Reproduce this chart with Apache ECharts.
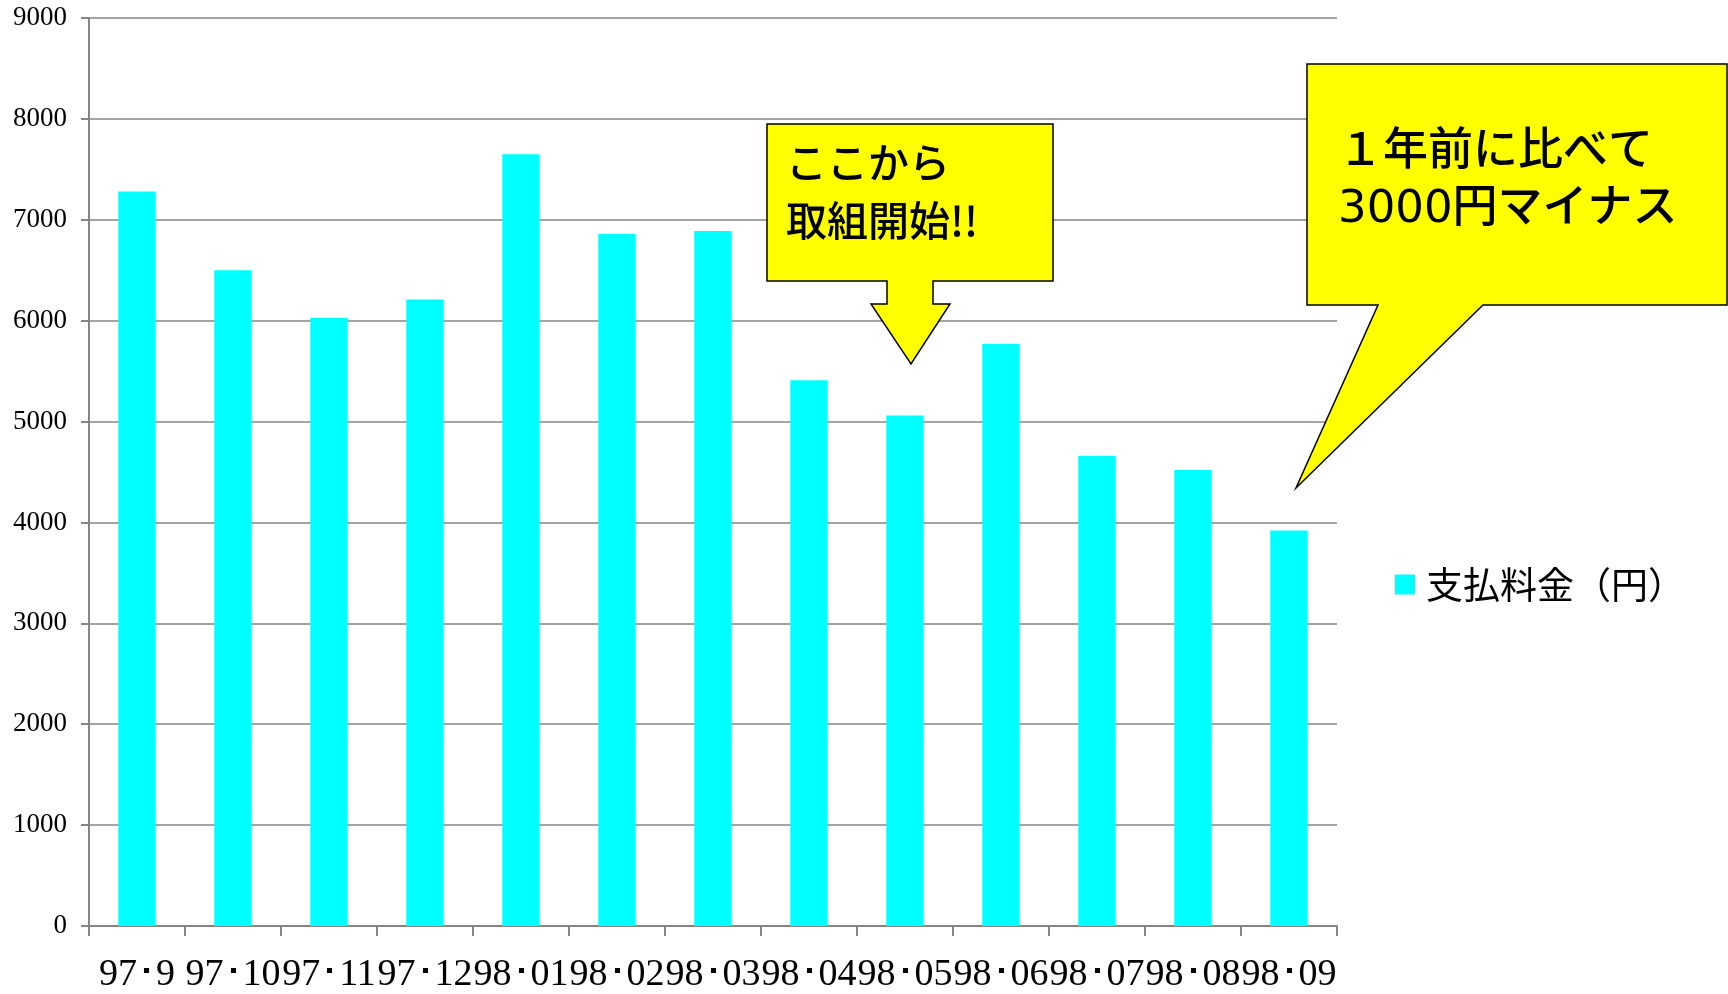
<!DOCTYPE html>
<html>
<head>
<meta charset="utf-8">
<script src="https://cdn.jsdelivr.net/npm/echarts@6/dist/echarts.min.js"></script>
<style>
html,body{margin:0;padding:0;background:#fff;}
#chart{width:1728px;height:994px;}
</style>
</head>
<body>
<div id="chart"></div>
<script>
const categories = ["97･9","97･10","97･11","97･12","98･01","98･02","98･03","98･04","98･05","98･06","98･07","98･08","98･09"];
const values = [7280, 6500, 6030, 6210, 7650, 6860, 6890, 5410, 5060, 5770, 4660, 4520, 3920];
const seriesName = "支払料金（円）";
const yTicks = { min: 0, max: 9000, interval: 1000 };
const callout1Text = "ここから\n取組開始!!";
const callout2Text = "１年前に比べて\n3000円マイナス";

const chart = echarts.init(document.getElementById('chart'));
const gridColor = '#868686';
chart.setOption({
  animation: false,
  backgroundColor: '#fff',
  grid: { left: 89, right: 391, top: 18, bottom: 67, containLabel: false },
  legend: {
    data: [seriesName],
    left: 1390, top: 561,
    orient: 'vertical',
    icon: 'rect',
    itemWidth: 20, itemHeight: 20,
    textStyle: { fontSize: 37, color: '#000', fontFamily: "'Noto Sans CJK JP'", padding: [0,0,0,6] }
  },
  xAxis: {
    type: 'category',
    data: categories,
    axisLine: { lineStyle: { color: gridColor, width: 2 } },
    axisTick: { show: true, length: 10, lineStyle: { color: gridColor, width: 2 } },
    axisLabel: { interval: 0, margin: 30, fontSize: 38, color: '#000', fontFamily: "'Liberation Serif'", hideOverlap: false }
  },
  yAxis: {
    type: 'value',
    min: yTicks.min, max: yTicks.max, interval: yTicks.interval,
    axisLine: { show: true, lineStyle: { color: gridColor, width: 2 } },
    axisTick: { show: true, length: 8, lineStyle: { color: gridColor, width: 2 } },
    splitLine: { lineStyle: { color: gridColor, width: 1.5 } },
    axisLabel: { margin: 22, fontSize: 27, color: '#000', fontFamily: "'Liberation Serif'", formatter: v => String(v) }
  },
  series: [{
    name: seriesName,
    type: 'bar',
    data: values,
    barWidth: '39%',
    itemStyle: { color: '#00FFFF' }
  }],
  graphic: [
    {
      type: 'polygon', z: 100,
      shape: { points: [[767,124],[1053,124],[1053,281],[933,281],[933,304],[950,304],[911,364],[871,304],[887,304],[887,281],[767,281]] },
      style: { fill: '#FFFF00', stroke: '#000', lineWidth: 1.5 }
    },
    {
      type: 'text', z: 101,
      style: { text: callout1Text, x: 786, y: 133, fontSize: 41, fontWeight: 500, lineHeight: 58, fontFamily: "'Noto Sans CJK JP'", fill: '#000', verticalAlign: 'top' }
    },
    {
      type: 'polygon', z: 100,
      shape: { points: [[1307,64],[1727,64],[1727,305],[1483,305],[1296,488],[1378,305],[1307,305]] },
      style: { fill: '#FFFF00', stroke: '#000', lineWidth: 1.5 }
    },
    {
      type: 'text', z: 101,
      style: { text: callout2Text, x: 1338, y: 125, fontSize: 45, fontWeight: 500, lineHeight: 57, fontFamily: "'DejaVu Sans','Noto Sans CJK JP'", fill: '#000', verticalAlign: 'top' }
    }
  ]
});
</script>
</body>
</html>
